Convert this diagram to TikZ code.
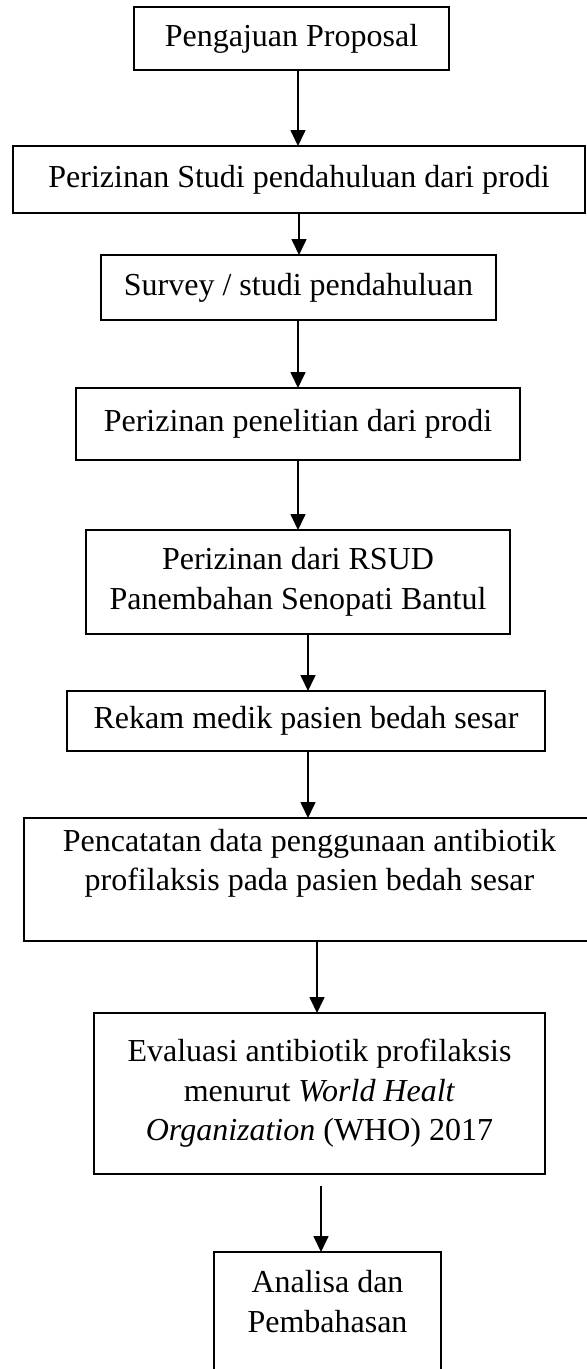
\documentclass[tikz,border=0pt]{standalone}
\usepackage{fontspec}
\setmainfont{Liberation Serif}
\usetikzlibrary{arrows.meta}

\begin{document}
\begin{tikzpicture}[x=0.375pt, y=-0.375pt,
  every node/.style={font=\fontsize{12pt}{14.8pt}\selectfont},
  stepbox/.style 2 args={draw, line width=0.7pt, inner sep=0pt, outer sep=0pt, anchor=north west, align=center, minimum width=#1*0.375pt, minimum height=#2*0.375pt},
  flow/.style={-{Triangle[length=6pt, width=5.6pt]}, line width=0.7pt}]
  \useasboundingbox (0,0) rectangle (587,1369);

  \node[stepbox={315}{63}]  (proposal)   at (134,7)    {Pengajuan Proposal};
  \node[stepbox={572}{67}]  (izinstudi)  at (13,146)   {Perizinan Studi pendahuluan dari prodi};
  \node[stepbox={395}{65}]  (survey)     at (101,255)  {Survey / studi pendahuluan};
  \node[stepbox={444}{72}]  (izinprodi)  at (76,388)   {Perizinan penelitian dari prodi};
  \node[stepbox={424}{104}] (izinrsud)   at (86,530)   {Perizinan dari RSUD\\Panembahan Senopati Bantul};
  \node[stepbox={478}{60}]  (rekam)      at (67,691)   {Rekam medik pasien bedah sesar};
  \node[stepbox={571}{123}] (pencatatan) at (24,818)   {Pencatatan data penggunaan antibiotik\\profilaksis pada pasien bedah sesar\\\mbox{}};
  \node[stepbox={451}{161}] (evaluasi)   at (94,1013)  {Evaluasi antibiotik profilaksis\\menurut \textit{World Healt}\\\textit{Organization} (WHO) 2017};
  \node[stepbox={227}{138}] (analisa)    at (214,1252) {Analisa dan\\Pembahasan\\\mbox{}};

  \draw[flow] (proposal.south -| 298,0)   -- (izinstudi.north -| 298,0);
  \draw[flow] (izinstudi.south -| 299,0)  -- (survey.north -| 299,0);
  \draw[flow] (survey.south -| 298,0)     -- (izinprodi.north -| 298,0);
  \draw[flow] (izinprodi.south -| 298,0)  -- (izinrsud.north -| 298,0);
  \draw[flow] (izinrsud.south -| 308,0)   -- (rekam.north -| 308,0);
  \draw[flow] (rekam.south -| 308,0)      -- (pencatatan.north -| 308,0);
  \draw[flow] (pencatatan.south -| 317,0) -- (evaluasi.north -| 317,0);
  \draw[flow] (evaluasi.south -| 321,0)   ++(0,12) -- (analisa.north -| 321,0);
\end{tikzpicture}
\end{document}
